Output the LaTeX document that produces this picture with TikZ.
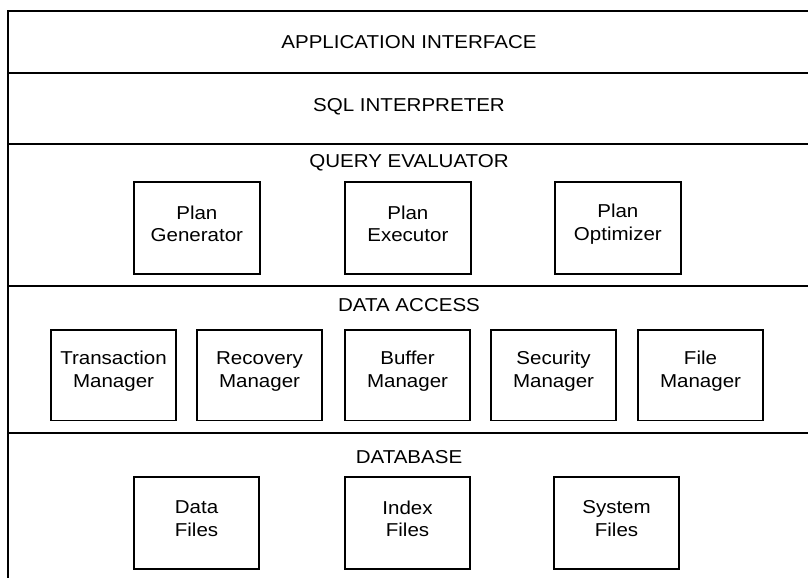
\documentclass[tikz,border=0pt]{standalone}
\usepackage{fontspec}
\setmainfont[FakeStretch=1.1]{Liberation Sans}
% a component box whose two-line caption sits a little above the box centre
\newcommand\comp[4]{%
  \node[part] (#1) at (#2) {};
  \node[comptext] (#1-text) at ([yshift=3pt]#1.center) {#3\\#4};}
\begin{document}
\begin{tikzpicture}[x=0.75pt,y=-0.75pt,
  rule/.style={line width=1.4pt,line cap=rect},
  layer/.style={font=\fontsize{14}{16}\selectfont,inner sep=0pt},
  part/.style={draw,line width=1.3pt,inner sep=0pt,anchor=north west},
  comptext/.style={align=center,inner sep=0pt,
    font=\fontsize{14}{17}\selectfont}]
\useasboundingbox (0,0) rectangle (808,578);

% frame and layer separators
\coordinate (tl) at (8,11);
\coordinate (bl) at (8,577);
\draw[rule] (bl) -- (tl) -- (808,11);
\draw[rule] (8,73) -- (808,73);
\draw[rule] (8,144) -- (808,144);
\draw[rule] (8,286) -- (808,286);
\draw[rule] (8,433) -- (808,433);

% layer titles
\node[layer] (app) at (409,42) {APPLICATION INTERFACE};
\node[layer] (sql) at (409,107) {SQL INTERPRETER};
\node[layer] (qe)  at (409,163) {QUERY EVALUATOR};
\node[layer] (da)  at (409,305) {DATA ACCESS};
\node[layer] (db)  at (409,457) {DATABASE};

% query evaluator components
\begin{scope}[part/.append style={minimum width=94.5pt,minimum height=69pt}]
\comp{pg}{133,181}{Plan}{Generator}
\comp{pe}{344,181}{Plan}{Executor}
\comp{po}{554,181}{Plan}{Optimizer}
\end{scope}

% data access components
\begin{scope}[part/.append style={minimum width=94pt,minimum height=68pt}]
\comp{tm}{50,329}{Transaction}{Manager}
\comp{rm}{196,329}{Recovery}{Manager}
\comp{bm}{344,329}{Buffer}{Manager}
\comp{sm}{490,329}{Security}{Manager}
\comp{fm}{637,329}{File}{Manager}
\end{scope}

% database files
\begin{scope}[part/.append style={minimum width=94pt,minimum height=69pt}]
\comp{df}{133,476}{Data}{Files}
\comp{xf}{344,476}{Index}{Files}
\comp{sf}{553,476}{System}{Files}
\end{scope}
\end{tikzpicture}
\end{document}
